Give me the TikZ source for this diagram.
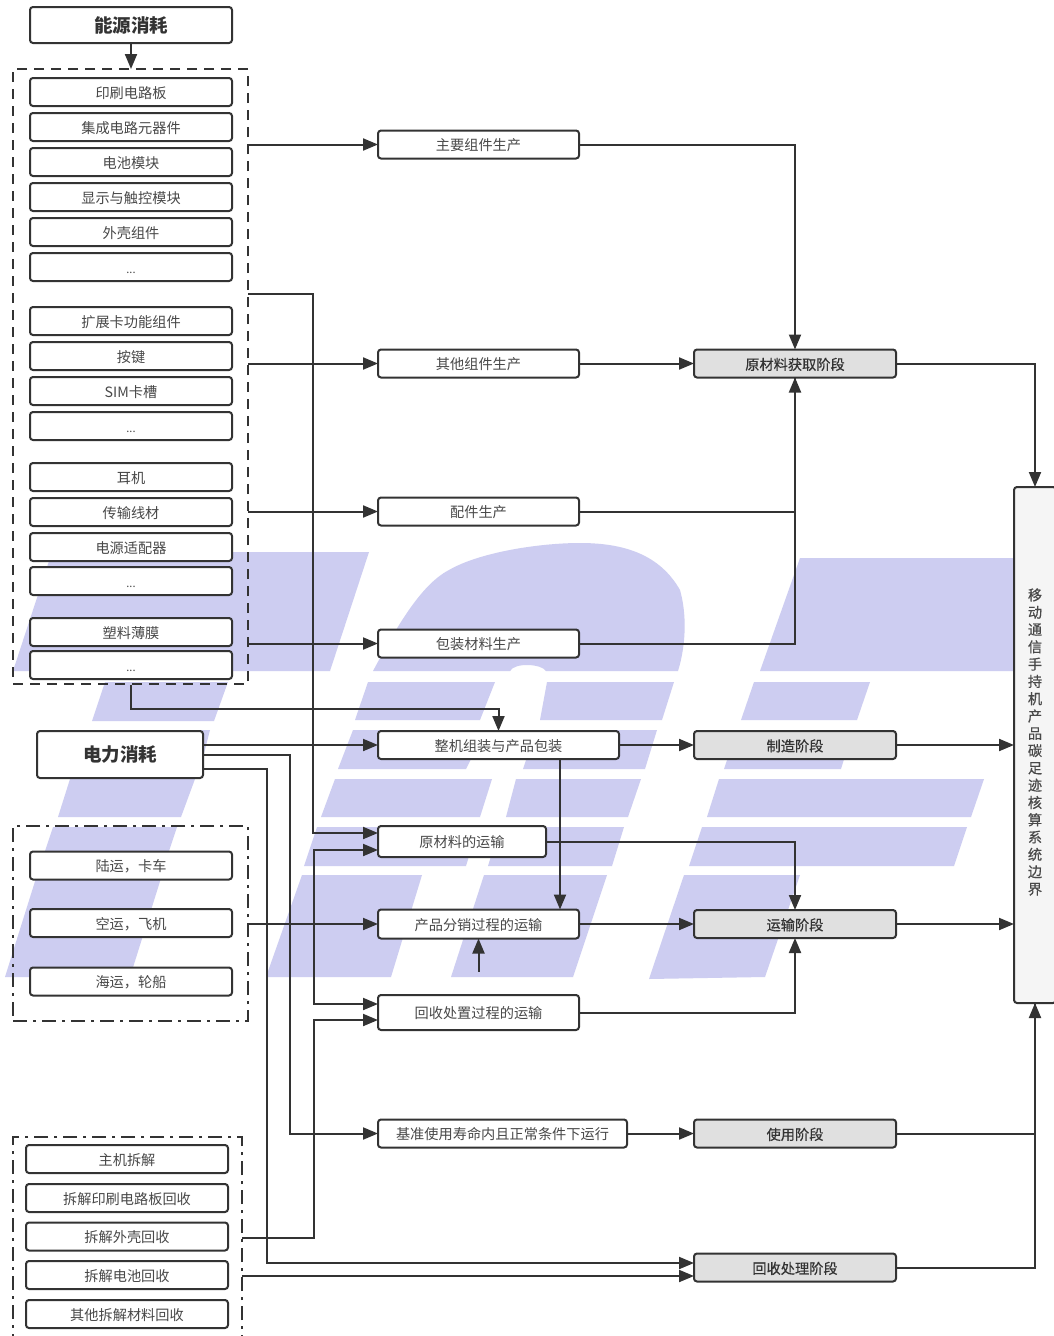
\documentclass[tikz,border=0pt]{standalone}
\usepackage{fontspec}
\setmainfont{Noto Sans CJK SC}
\newfontfamily\medfont{Noto Sans CJK SC}[FakeBold=0.5]
\usetikzlibrary{arrows.meta,calc}
\definecolor{ink}{HTML}{333333}
\definecolor{txt}{HTML}{484848}
\definecolor{wm}{HTML}{CDCDF1}
\tikzset{
  x=1pt,y=-1pt,
  wmark/.style={fill=wm,draw=none},
  basebox/.style={draw=ink,line width=2pt,rounded corners=3pt,fill=white,inner sep=0pt,outer sep=0pt,text=txt,
    font=\fontsize{14.2}{16}\selectfont,align=center},
  lowtext/.style={text height=14pt,text depth=1.4pt},
  item/.style={basebox,lowtext,minimum width=202pt,minimum height=28pt},
  proc/.style={basebox,lowtext,minimum height=28pt},
  stage/.style={basebox,lowtext,fill=black!12,minimum width=202pt,minimum height=28pt,font=\fontsize{14.2}{16}\selectfont\medfont,text=ink},
  head/.style={basebox,font=\fontsize{18.5}{20}\selectfont\bfseries,text=ink},
  dashbox/.style={draw=ink,line width=2pt,dash pattern=on 10pt off 7pt,inner sep=0pt,outer sep=0pt},
  dotbox/.style={draw=ink,line width=2pt,dash pattern=on 14pt off 6pt on 3pt off 6pt,inner sep=0pt,outer sep=0pt},
  link/.style={draw=ink,line width=2pt},
  arr/.style={link,-{Triangle[length=15pt,width=12pt]}},
}
\newcommand{\dotstext}{{\fontsize{11}{16}\selectfont\vphantom{电}...}}
\begin{document}
\begin{tikzpicture}
\useasboundingbox (0,0) rectangle (1053,1336);
\fill[white] (0,0) rectangle (1053,1336);
% watermark
\fill[wmark] (52,552)--(369,552)--(330,671)--(13,671)--cycle;
\fill[wmark] (105,682)--(228,682)--(214,721)--(92,721)--cycle;
\fill[wmark] (88,730)--(210,730)--(200,769)--(75,769)--cycle;
\fill[wmark] (70,779)--(195,779)--(181,817)--(58,817)--cycle;
\fill[wmark] (53,827)--(177,827)--(164,866)--(40,866)--cycle;
\fill[wmark] (37,875)--(162,875)--(130,977)--(5,977)--cycle;
\fill[wmark] (373,671) .. controls (395,630) and (420,585) .. (449,570)
   .. controls (480,552) and (540,543) .. (580,543)
   .. controls (625,543) and (660,555) .. (680,590)
   .. controls (687,615) and (686,645) .. (678,671)
   -- (546,671) .. controls (542,664) and (515,662) .. (510,671) -- cycle;
\fill[wmark] (368,682)--(495,682)--(480,720)--(355,720)--cycle;
\fill[wmark] (547,682)--(674,682)--(662,720)--(540,720)--cycle;
\fill[wmark] (754,682)--(870,682)--(857,720)--(741,720)--cycle;
\fill[wmark] (353,730)--(486,730)--(466,769)--(338,769)--cycle;
\fill[wmark] (536,730)--(657,730)--(645,769)--(523,769)--cycle;
\fill[wmark] (737,730)--(853,730)--(841,769)--(724,769)--cycle;
\fill[wmark] (335,779)--(492,779)--(480,817)--(321,817)--cycle;
\fill[wmark] (516,779)--(641,779)--(628,817)--(506,817)--cycle;
\fill[wmark] (719,779)--(984,779)--(971,817)--(707,817)--cycle;
\fill[wmark] (317,827)--(478,827)--(466,866)--(304,866)--cycle;
\fill[wmark] (500,827)--(624,827)--(612,866)--(488,866)--cycle;
\fill[wmark] (702,827)--(967,827)--(954,866)--(689,866)--cycle;
\fill[wmark] (302,875)--(422,875)--(391,977)--(266,977)--cycle;
\fill[wmark] (484,875)--(607,875)--(573,977)--(451,977)--cycle;
\fill[wmark] (684,875)--(800,875)--(765,977)--(649,979)--cycle;
\fill[wmark] (800,558)--(1015,558)--(1015,671)--(760,671)--cycle;

% group frames
\node[dashbox,minimum width=235pt,minimum height=615pt] (gA) at (130.5,376.5) {};
\node[dotbox,minimum width=235pt,minimum height=195pt] (gB) at (130.5,923.5) {};
\node[dotbox,minimum width=229pt,minimum height=215pt] (gC) at (127.5,1244.5) {};

% head nodes
\node[head,minimum width=202pt,minimum height=36pt] (energy) at (131,25) {能源消耗};
\node[head,minimum width=166pt,minimum height=47pt] (power) at (120,754.5) {电力消耗};

% component items
\node[item] (a1) at (131,92) {印刷电路板};
\node[item] (a2) at (131,127) {集成电路元器件};
\node[item] (a3) at (131,162) {电池模块};
\node[item] (a4) at (131,197) {显示与触控模块};
\node[item] (a5) at (131,232) {外壳组件};
\node[item] (a6) at (131,267) {\dotstext};
\node[item] (a7) at (131,321) {扩展卡功能组件};
\node[item] (a8) at (131,356) {按键};
\node[item] (a9) at (131,391) {SIM卡槽};
\node[item] (a10) at (131,426) {\dotstext};
\node[item] (a11) at (131,477) {耳机};
\node[item] (a12) at (131,512) {传输线材};
\node[item] (a13) at (131,547) {电源适配器};
\node[item] (a14) at (131,581) {\dotstext};
\node[item] (a15) at (131,632) {塑料薄膜};
\node[item] (a16) at (131,665) {\dotstext};

\node[item] (b1) at (131,865.5) {陆运，卡车};
\node[item] (b2) at (131,923) {空运，飞机};
\node[item] (b3) at (131,981.5) {海运，轮船};

\node[item] (c1) at (127,1159) {主机拆解};
\node[item] (c2) at (127,1198) {拆解印刷电路板回收};
\node[item] (c3) at (127,1236.5) {拆解外壳回收};
\node[item] (c4) at (127,1275) {拆解电池回收};
\node[item] (c5) at (127,1314) {其他拆解材料回收};

% process nodes
\node[proc,minimum width=201pt] (p1) at (478.5,144.5) {主要组件生产};
\node[proc,minimum width=201pt] (p2) at (478.5,363.5) {其他组件生产};
\node[proc,minimum width=201pt] (p3) at (478.5,511.5) {配件生产};
\node[proc,minimum width=201pt] (p4) at (478.5,643.5) {包装材料生产};
\node[proc,minimum width=241pt] (p5) at (498.5,745) {整机组装与产品包装};
\node[proc,minimum width=168pt,minimum height=31pt] (t1) at (462,841.5) {原材料的运输};
\node[proc,minimum width=201pt,minimum height=29pt] (t2) at (478.5,924) {产品分销过程的运输};
\node[proc,minimum width=201pt,minimum height=35pt] (t3) at (478.5,1012.5) {回收处置过程的运输};
\node[proc,minimum width=249pt] (u1) at (502.5,1133.5) {基准使用寿命内且正常条件下运行};

% stage nodes
\node[stage] (s1) at (795,363.5) {原材料获取阶段};
\node[stage] (s2) at (795,745) {制造阶段};
\node[stage] (s3) at (795,924) {运输阶段};
\node[stage] (s4) at (795,1133.5) {使用阶段};
\node[stage] (s5) at (795,1267.5) {回收处理阶段};

% boundary
\node[basebox,fill=black!4,minimum width=42pt,minimum height=516pt] (bound) at (1035,745) {};
\node[inner sep=0pt,text=txt,align=center,font=\fontsize{14.2}{17.3}\selectfont\medfont] (boundtext) at (1035,742)
 {移\\动\\通\\信\\手\\持\\机\\产\\品\\碳\\足\\迹\\核\\算\\系\\统\\边\\界};

% anchor coordinates
\coordinate (t1a) at ($(t1.west)+(0,-8.5)$);
\coordinate (t1b) at ($(t1.west)+(0,8.5)$);
\coordinate (t3a) at ($(t3.west)+(0,-8.5)$);
\coordinate (t3b) at ($(t3.west)+(0,7.5)$);
\coordinate (s5a) at ($(s5.west)+(0,-4.5)$);
\coordinate (s5b) at ($(s5.west)+(0,8.5)$);
\coordinate (p5down) at ($(p5.south)+(61.5,0)$);
\coordinate (t2in) at ($(t2.south)+(0,33)$);
\coordinate (pw1) at ($(power.north east)+(0,14)$);
\coordinate (pw2) at ($(power.north east)+(0,24)$);
\coordinate (pw3) at ($(power.north east)+(0,38)$);
\coordinate (gAjog) at ($(gA.north east)+(0,225)$);
\coordinate (gApack) at ($(a16.south)+(0,5.5)$);
\coordinate (c3out) at ($(c3.east)+(0,1.5)$);
\coordinate (p6hub) at (314,924);

% connectors
\draw[arr] (energy.south) -- (energy.south |- gA.north);
\draw[arr] (gA.east |- p1.west) -- (p1.west);
\draw[arr] (p1.east) -| (s1.north);
\draw[arr] (gAjog) -- (313,294) |- (t1a);
\draw[arr] (gA.east |- p2.west) -- (p2.west);
\draw[arr] (p2.east) -- (s1.west);
\draw[arr] (gA.east |- p3.west) -- (p3.west);
\draw[arr] (p3.east) -| (s1.south);
\draw[arr] (gA.east |- p4.west) -- (p4.west);
\draw[link] (p4.east) -| (s1.south);
\draw[arr] (gApack) -- ($(gApack)+(0,24)$) -| (p5.north);
\draw[arr] (pw1) -- (pw1 -| p5.west);
\draw[arr] (pw2) -- (290,755) |- (u1.west);
\draw[arr] (pw3) -- (267,769) |- (s5a);
\draw[arr] (p5.east) -- (s2.west);
\draw[arr] (s2.east) -- (s2.east -| bound.west);
\draw[arr] (p5down) -- (p5down |- t2.north);
\draw[arr] (t1.east) -| (s3.north);
\draw[arr] (t2.east) -- (s3.west);
\draw[arr] (s3.east) -- (s3.east -| bound.west);
\draw[arr] (t2in) -- (t2.south);
\draw[arr] (gB.east |- t2.west) -- (t2.west);
\draw[arr] (p6hub) |- (t1b);
\draw[arr] (p6hub) |- (t3a);
\draw[arr] (gC.east |- c3out) -| (313.5,1020) -- (t3b);
\draw[arr] (t3.east) -| (s3.south);
\draw[arr] (u1.east) -- (s4.west);
\draw[link] (s4.east) -| (bound.south);
\draw[arr] (s5.east) -| (bound.south);
\draw[arr] (gC.east |- s5b) -- (s5b);
\draw[arr] (s1.east) -| (bound.north);
\end{tikzpicture}
\end{document}
